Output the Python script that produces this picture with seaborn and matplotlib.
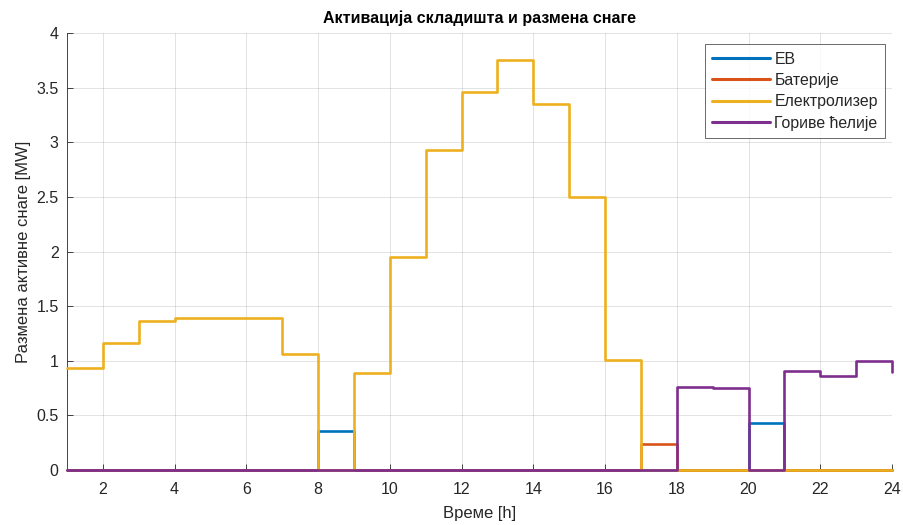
import numpy as np
import pandas as pd
import seaborn as sns
import matplotlib
matplotlib.use("Agg")
import matplotlib.pyplot as plt

# Hourly power exchange [MW], hours 1..24
hours = list(range(1, 25))
ev = [0, 0, 0, 0, 0, 0, 0, 0.36, 0, 0, 0, 0,
      0, 0, 0, 0, 0, 0, 0, 0.43, 0, 0, 0, 0]
batteries = [0, 0, 0, 0, 0, 0, 0, 0, 0, 0, 0, 0,
             0, 0, 0, 0, 0.24, 0, 0, 0, 0, 0, 0, 0]
electrolyzer = [0.93, 1.16, 1.36, 1.39, 1.39, 1.39, 1.06, 0, 0.89, 1.95, 2.93, 3.46,
                3.75, 3.35, 2.50, 1.01, 0, 0, 0, 0, 0, 0, 0, 0]
fuel_cells = [0, 0, 0, 0, 0, 0, 0, 0, 0, 0, 0, 0,
              0, 0, 0, 0, 0, 0.76, 0.75, 0, 0.91, 0.86, 1.00, 0.90]

series_names = ["ЕВ", "Батерије", "Електролизер", "Гориве ћелије"]
series_colors = ["#0072BD", "#D95319", "#EDB120", "#7E2F8E"]
x_ticks = list(range(2, 25, 2))
y_ticks = [0, 0.5, 1, 1.5, 2, 2.5, 3, 3.5, 4]
y_tick_labels = ["0", "0.5", "1", "1.5", "2", "2.5", "3", "3.5", "4"]

df = pd.DataFrame({"h": hours, series_names[0]: ev, series_names[1]: batteries,
                   series_names[2]: electrolyzer, series_names[3]: fuel_cells})

sns.set_style("white")
plt.rcParams["font.family"] = ["Liberation Sans", "DejaVu Sans"]

fig = plt.figure(figsize=(9.04, 5.25), dpi=100)
ax = fig.add_axes([0.0741, 0.1048, 0.9126, 0.8323])

for name, col in zip(series_names, series_colors):
    sns.lineplot(data=df, x="h", y=name, ax=ax, color=col, linewidth=1.9,
                 drawstyle="steps-post", label=name, estimator=None,
                 clip_on=False, zorder=3)

ax.set_xlim(1, 24)
ax.set_ylim(0, 4)
ax.set_xticks(x_ticks)
ax.set_xticklabels([str(t) for t in x_ticks])
ax.set_yticks(y_ticks)
ax.set_yticklabels(y_tick_labels)
ax.grid(True, color="#262626", alpha=0.15, linewidth=0.6)
ax.set_axisbelow(True)
ax.spines["top"].set_visible(False)
ax.spines["right"].set_visible(False)
for side in ("left", "bottom"):
    ax.spines[side].set_visible(True)
    ax.spines[side].set_color("#262626")
    ax.spines[side].set_linewidth(0.6)
    ax.spines[side].set_zorder(2)
ax.tick_params(direction="in", length=4, width=0.6, colors="#262626",
               labelsize=11.5, top=False, right=False, bottom=True, left=True)
ax.tick_params(axis="x", pad=9)
ax.tick_params(axis="y", pad=6)
for lab in ax.get_xticklabels() + ax.get_yticklabels():
    lab.set_color("#262626")

ax.set_title("Активација складишта и размена снаге", fontsize=11.5,
             fontweight="bold", color="black", pad=7)
ax.set_xlabel("Време [h]", fontsize=12, color="#262626", labelpad=6)
ax.set_ylabel("Размена активне снаге [MW]", fontsize=12, color="#262626", labelpad=4)

leg = ax.legend(loc="upper right", bbox_to_anchor=(0.9915, 0.974), fontsize=11.4,
                frameon=True, fancybox=False, handlelength=3.7, handletextpad=0.25,
                borderpad=0.45, labelspacing=0.4, borderaxespad=0.0)
leg.get_frame().set_edgecolor("#262626")
leg.get_frame().set_linewidth(0.6)
leg.set_zorder(5)
for line in leg.get_lines():
    line.set_linewidth(2.2)

fig.savefig("out.png", dpi=100)
